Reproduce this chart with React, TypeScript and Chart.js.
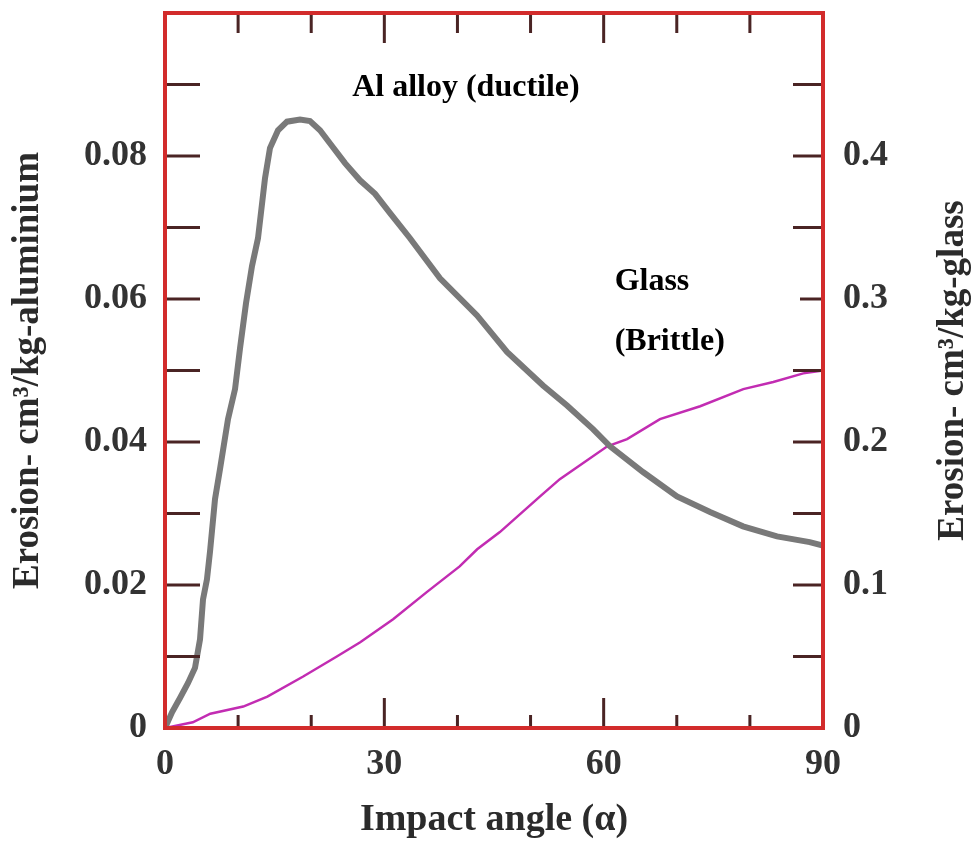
import React, { useEffect, useRef } from "react";
import { Chart, registerables } from "chart.js";

Chart.register(...registerables);

// ---- Data ----
// Al alloy (ductile) — left axis, erosion cm^3/kg-aluminium
const alAngles = [
  0, 0.96, 2.05, 3.15, 4.1, 4.79, 5.2, 5.74, 6.16, 6.84, 7.52, 8.62, 9.58, 10.26,
  11.08, 11.9, 12.72, 13.68, 14.36, 15.46, 16.69, 18.47, 19.83, 21.2, 22.84, 24.62,
  26.67, 28.73, 30.78, 33.51, 37.61, 42.68, 46.78, 51.7, 54.99, 58.54, 60.87, 65.38,
  70.03, 74.55, 79.06, 83.71, 88.18, 90,
];
const alErosion = [
  0, 0.0022, 0.0042, 0.0063, 0.0084, 0.0124, 0.018, 0.0208, 0.0247, 0.032, 0.0362,
  0.0432, 0.0474, 0.0531, 0.0594, 0.0646, 0.0685, 0.0769, 0.0811, 0.0836, 0.0848,
  0.0851, 0.0849, 0.0836, 0.0814, 0.079, 0.0766, 0.0747, 0.072, 0.0685, 0.0629,
  0.0577, 0.0526, 0.0479, 0.0451, 0.0418, 0.0394, 0.0358, 0.0324, 0.0302, 0.0282,
  0.0268, 0.026, 0.0255,
];

// Glass (brittle) — right axis, erosion cm^3/kg-glass
const glassAngles = [
  0, 3.8, 6.2, 10.7, 14.0, 18.9, 23.5, 26.7, 31.2, 35.8, 40.3, 42.7, 45.8, 51.3, 54.0,
  60.5, 63.2, 67.7, 73.2, 79.1, 83.2, 87.3, 90,
];
const glassErosion = [
  0, 0.004, 0.01, 0.015, 0.022, 0.036, 0.05, 0.06, 0.076, 0.095, 0.113, 0.125, 0.137,
  0.162, 0.174, 0.197, 0.202, 0.216, 0.225, 0.237, 0.242, 0.248, 0.25,
];

// Tick labels
const xTickLabels = [0, 30, 60, 90];
const leftTickLabels = [0, 0.02, 0.04, 0.06, 0.08];
const rightTickLabels = [0, 0.1, 0.2, 0.3, 0.4];

// Texts
const xTitle = "Impact angle (\u03b1)";
const leftTitle = "Erosion- cm\u00b3/kg-aluminium";
const rightTitle = "Erosion- cm\u00b3/kg-glass";
const annotations = [
  { text: "Al alloy (ductile)", x: 25.6, y: 0.0884 },
  { text: "Glass", x: 61.5, y: 0.0612 },
  { text: "(Brittle)", x: 61.5, y: 0.0528 },
];

const SERIF = "'Liberation Serif', 'Times New Roman', serif";
const FRAME = "#d22b2b";
const TICK = "#4a2424";
const LABEL = "#333333";

const near = (v: number, list: number[]) => list.some((l) => Math.abs(l - v) < 1e-6);

const zeroPad = (s: any) => {
  s.paddingTop = 0;
  s.paddingBottom = 0;
  s.paddingLeft = 0;
  s.paddingRight = 0;
};

const decorPlugin = {
  id: "decor",
  afterDatasetsDraw(chart: any) {
    const { ctx, chartArea, scales } = chart;
    const { left, right, top, bottom } = chartArea;
    const x = scales.x, y = scales.y, y1 = scales.y1;
    ctx.save();
    ctx.lineWidth = 3;
    ctx.strokeStyle = TICK;
    // x ticks (bottom & top, inside)
    x.ticks.forEach((t: any) => {
      if (t.value <= 0 || t.value >= 90) return;
      const px = x.getPixelForValue(t.value);
      const major = near(t.value, xTickLabels);
      ctx.beginPath();
      ctx.moveTo(px, bottom);
      ctx.lineTo(px, bottom - (major ? 30 : 13));
      ctx.moveTo(px, top);
      ctx.lineTo(px, top + (major ? 30 : 20));
      ctx.stroke();
    });
    // left ticks
    y.ticks.forEach((t: any) => {
      if (t.value <= 0 || t.value >= 0.1 - 1e-9) return;
      const py = y.getPixelForValue(t.value);
      ctx.beginPath();
      ctx.moveTo(left, py);
      ctx.lineTo(left + 35, py);
      ctx.stroke();
    });
    // right ticks
    y1.ticks.forEach((t: any) => {
      if (t.value <= 0 || t.value >= 0.5 - 1e-9) return;
      const py = y1.getPixelForValue(t.value);
      ctx.beginPath();
      ctx.moveTo(right, py);
      ctx.lineTo(right - 30, py);
      ctx.stroke();
    });
    // white box behind the glass label
    const bx = x.getPixelForValue(61.2);
    const bTop = y.getPixelForValue(0.066);
    const bBot = y.getPixelForValue(0.0505);
    ctx.fillStyle = "#ffffff";
    ctx.fillRect(bx, bTop, right - 23 - bx, bBot - bTop);
    // frame
    ctx.strokeStyle = FRAME;
    ctx.lineWidth = 4;
    ctx.strokeRect(left, top, right - left, bottom - top);
    // annotations
    ctx.fillStyle = "#000000";
    ctx.font = `bold 32px ${SERIF}`;
    ctx.textAlign = "left";
    ctx.textBaseline = "alphabetic";
    annotations.forEach((a) => {
      ctx.fillText(a.text, x.getPixelForValue(a.x), y.getPixelForValue(a.y));
    });
    // right axis title (reads bottom-to-top)
    ctx.translate(953, (top + bottom) / 2);
    ctx.rotate(-Math.PI / 2);
    ctx.fillStyle = "#2b2b2b";
    ctx.font = `bold 37px ${SERIF}`;
    ctx.textAlign = "center";
    ctx.textBaseline = "middle";
    ctx.fillText(rightTitle, 0, 0);
    ctx.restore();
  },
};

export default function App() {
  const ref = useRef<HTMLCanvasElement>(null);
  useEffect(() => {
    const chart = new Chart(ref.current as HTMLCanvasElement, {
      type: "line",
      data: {
        datasets: [
          {
            label: "Al alloy (ductile)",
            data: alAngles.map((a, i) => ({ x: a, y: alErosion[i] })),
            yAxisID: "y",
            borderColor: "#797979",
            borderWidth: 6,
            pointRadius: 0,
            tension: 0,
          },
          {
            label: "Glass (Brittle)",
            data: glassAngles.map((a, i) => ({ x: a, y: glassErosion[i] })),
            yAxisID: "y1",
            borderColor: "#c22cb2",
            borderWidth: 2.5,
            pointRadius: 0,
            tension: 0,
          },
        ],
      },
      options: {
        animation: false,
        responsive: false,
        layout: { padding: { top: 13, left: 0, right: 0, bottom: 0 } },
        plugins: { legend: { display: false }, tooltip: { enabled: false } },
        scales: {
          x: {
            type: "linear",
            position: "bottom",
            min: 0,
            max: 90,
            grid: { display: false, drawTicks: false },
            border: { display: false },
            ticks: {
              stepSize: 10,
              autoSkip: false,
              maxRotation: 0,
              padding: 15,
              color: LABEL,
              font: { family: SERIF, size: 36, weight: "bold" },
              callback: (v: any) => (near(Number(v), xTickLabels) ? String(v) : ""),
            },
            title: {
              display: true,
              text: xTitle,
              color: "#2b2b2b",
              font: { family: SERIF, size: 38, weight: "bold" },
              padding: { top: 0, bottom: 0 },
            },
            afterFit: (s: any) => {
              s.height = 115;
              zeroPad(s);
            },
          } as any,
          y: {
            type: "linear",
            position: "left",
            min: 0,
            max: 0.1,
            grid: { display: false, drawTicks: false },
            border: { display: false },
            ticks: {
              stepSize: 0.01,
              autoSkip: false,
              padding: 18,
              color: LABEL,
              font: { family: SERIF, size: 36, weight: "bold" },
              callback: (v: any) => {
                const n = Number(v);
                if (!near(n, leftTickLabels)) return "";
                return n === 0 ? "0" : n.toFixed(2);
              },
            },
            title: {
              display: true,
              text: leftTitle,
              color: "#2b2b2b",
              font: { family: SERIF, size: 37, weight: "bold" },
              padding: { top: 6, bottom: 0 },
            },
            afterFit: (s: any) => {
              s.width = 165;
              zeroPad(s);
            },
          } as any,
          y1: {
            type: "linear",
            position: "right",
            min: 0,
            max: 0.5,
            grid: { display: false, drawTicks: false },
            border: { display: false },
            ticks: {
              stepSize: 0.05,
              autoSkip: false,
              padding: 20,
              color: LABEL,
              font: { family: SERIF, size: 36, weight: "bold" },
              callback: (v: any) => {
                const n = Number(v);
                if (!near(n, rightTickLabels)) return "";
                return n === 0 ? "0" : n.toFixed(1);
              },
            },
            afterFit: (s: any) => {
              s.width = 149;
              zeroPad(s);
            },
          } as any,
        },
      },
      plugins: [decorPlugin],
    });
    return () => chart.destroy();
  }, []);

  return (
    <div style={{ position: "fixed", left: 0, top: 0, width: 972, height: 843, background: "#fff" }}>
      <canvas ref={ref} width={972} height={843} style={{ display: "block" }} />
    </div>
  );
}
